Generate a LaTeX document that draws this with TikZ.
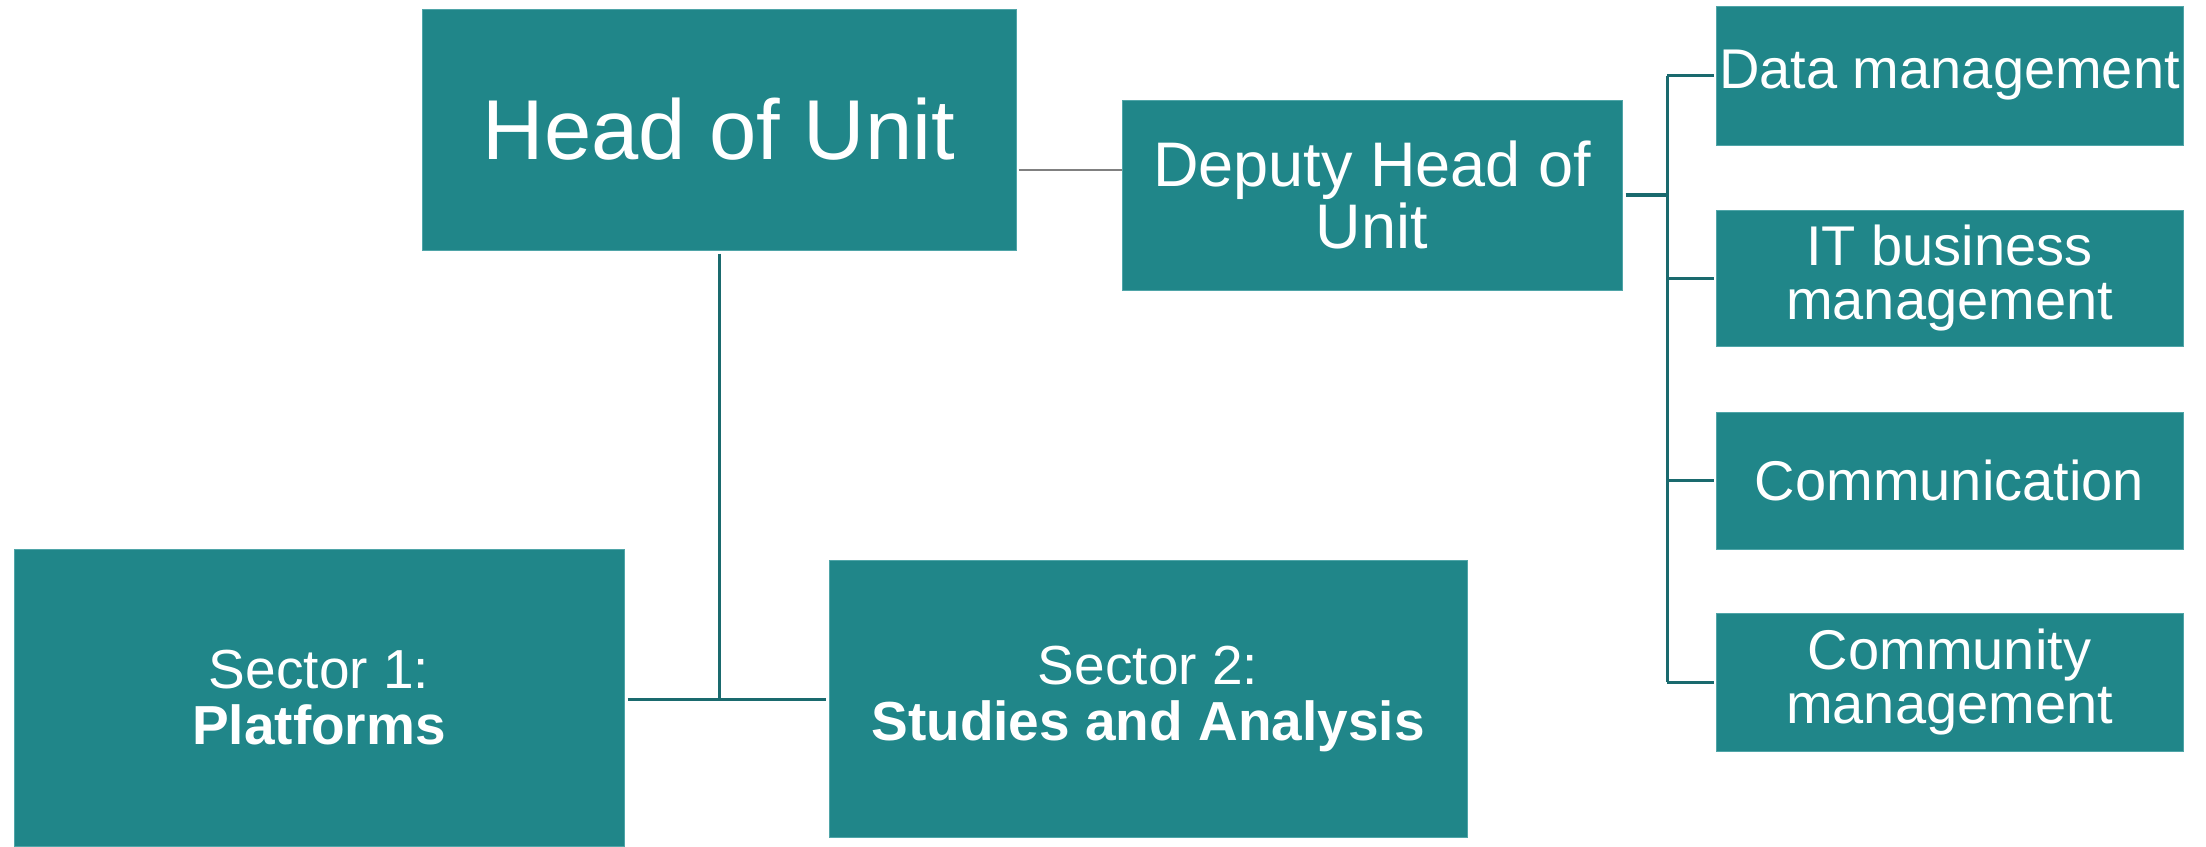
\documentclass[tikz,border=0pt]{standalone}
\usepackage{fontspec}
\setmainfont{Liberation Sans}
\definecolor{tealfill}{HTML}{208689}
\definecolor{tealedge}{HTML}{4FA5A8}
\definecolor{tealline}{HTML}{1A6A6E}
\definecolor{grayline}{HTML}{808080}
\begin{document}
\begin{tikzpicture}[x=1pt,y=-1pt,
  box/.style={draw=tealedge,line width=1pt,fill=tealfill,text=white,
    inner sep=0pt,align=center,rectangle},
  conn/.style={draw=tealline,line width=3pt},
  gconn/.style={draw=grayline,line width=2pt}]
\useasboundingbox (0,0) rectangle (2206,846);
\node[box,minimum width=594pt,minimum height=241pt,font=\fontsize{85}{90}\selectfont] (head) at (719,129.5) {Head of Unit};
\node[box,minimum width=500pt,minimum height=190pt,font=\fontsize{63}{62}\selectfont] (deputy) at (1372,195) {Deputy Head of\\Unit};
\node[box,minimum width=467pt,minimum height=139pt,font=\fontsize{56}{54}\selectfont] (data) at (1949.5,75.5) {Data management};
\node[box,minimum width=467pt,minimum height=136pt,font=\fontsize{56}{54}\selectfont] (itb) at (1949.5,278) {IT business\\management};
\node[box,minimum width=467pt,minimum height=137pt,font=\fontsize{56}{54}\selectfont] (comm) at (1949.5,480.5) {Communication};
\node[box,minimum width=467pt,minimum height=138pt,font=\fontsize{56}{54}\selectfont] (comty) at (1949.5,682) {Community\\management};
\node[box,minimum width=610pt,minimum height=297pt,font=\fontsize{55}{56}\selectfont] (s1) at (319,697.5) {Sector 1:\\\textbf{Platforms}};
\node[box,minimum width=638pt,minimum height=277pt,font=\fontsize{55}{56}\selectfont] (s2) at (1148,698.5) {Sector 2:\\\textbf{Studies and Analysis}};
\coordinate (hy) at (0,170);
\coordinate (bus) at (1667,0);
\coordinate (hy2) at (0,699);
\draw[gconn,shorten <=2pt] (head.east |- hy) -- (deputy.west |- hy);
\draw[conn,line width=4pt,shorten <=3pt] (deputy.east) -- (deputy.east -| bus);
\draw[conn] (data.west -| bus) -- (comty.west -| bus);
\draw[conn,shorten >=2pt] (data.west -| bus) -- (data.west);
\draw[conn,shorten >=2pt] (itb.west -| bus) -- (itb.west);
\draw[conn,shorten >=2pt] (comm.west -| bus) -- (comm.west);
\draw[conn,shorten >=2pt] (comty.west -| bus) -- (comty.west);
\draw[conn,shorten <=3pt] (head.south) -- (head.south |- hy2);
\draw[conn,shorten <=3pt,shorten >=3pt] (s1.east |- hy2) -- (s2.west |- hy2);
\end{tikzpicture}
\end{document}
